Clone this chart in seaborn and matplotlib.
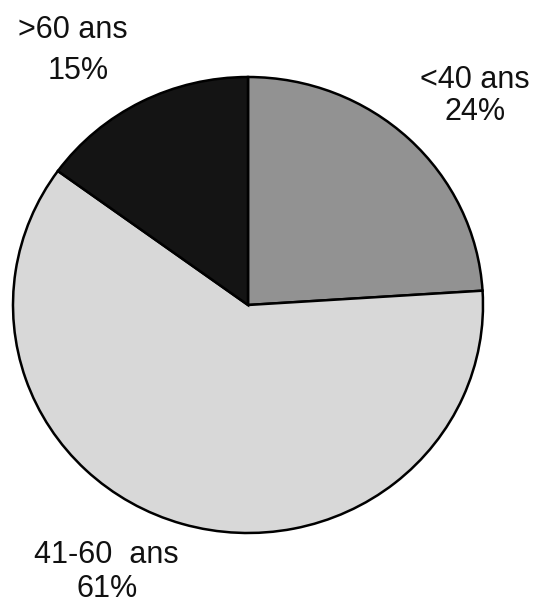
import matplotlib
matplotlib.use("Agg")
import matplotlib.pyplot as plt
import seaborn as sns

# Répartition par âge
labels = ["<40 ans", "41-60  ans", ">60 ans"]
shares = [24, 61, 15]
colors = ["#929292", "#d8d8d8", "#141414"]

sns.set_theme(style="white")
plt.rcParams["font.family"] = ["Liberation Sans", "DejaVu Sans"]

W, H = 538, 604
fig = plt.figure(figsize=(W / 100, H / 100), dpi=100)
ax = fig.add_axes([0, 0, 1, 1])

# pie centre and radii in pixels (scan is slightly elliptical)
cx, cy, rx, ry = 248, 305, 235, 228
ax.pie(shares, colors=colors, startangle=90, counterclock=False,
       wedgeprops={"edgecolor": "black", "linewidth": 1.8})
ax.set_aspect("auto")
ax.set_xlim(-cx / rx, (W - cx) / rx)
ax.set_ylim(-(H - cy) / ry, cy / ry)
ax.axis("off")

label_pos = {
    "<40 ans": ((475, 80), (475, 112)),
    "41-60  ans": ((106, 555), (107, 589)),
    ">60 ans": ((73, 30), (78, 71)),
}
for lab, pct in zip(labels, shares):
    (x1, y1), (x2, y2) = label_pos[lab]
    fig.text(x1 / W, 1 - y1 / H, lab, ha="center", va="center", fontsize=22, color="#111111")
    fig.text(x2 / W, 1 - y2 / H, f"{pct}%", ha="center", va="center", fontsize=22, color="#111111")

fig.savefig("out.png", dpi=100, facecolor="white")
